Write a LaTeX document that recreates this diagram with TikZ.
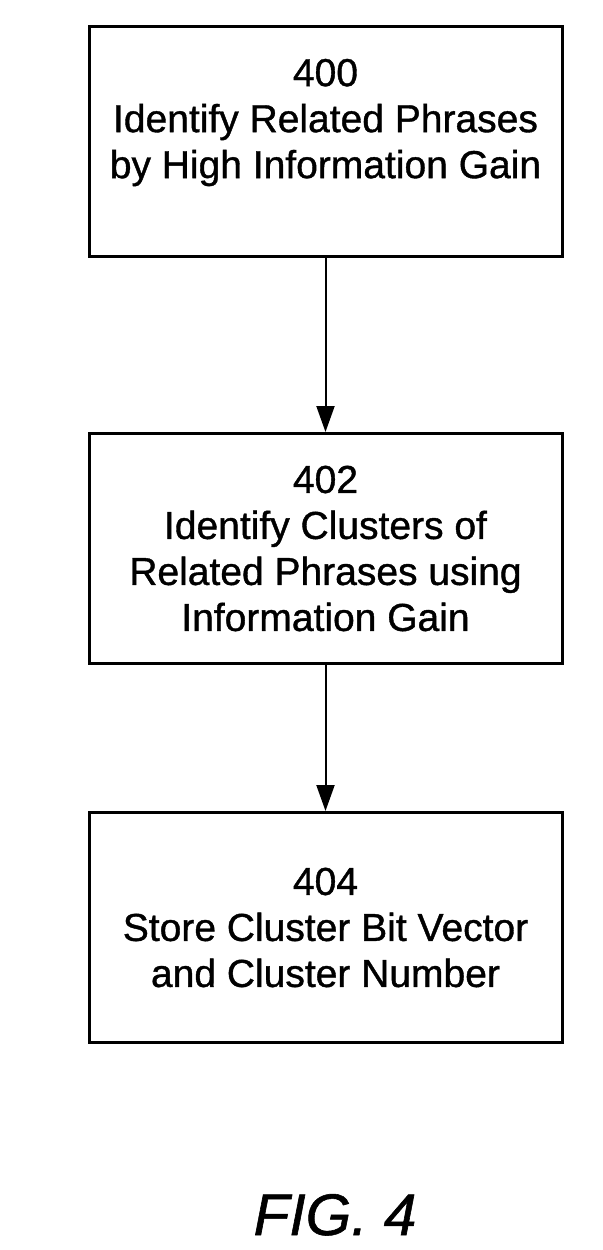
\documentclass[tikz,border=0pt]{standalone}
\usepackage{fontspec}
\setmainfont{Liberation Sans}[FakeBold=1]
\usetikzlibrary{arrows.meta,positioning}

\begin{document}
\begin{tikzpicture}[
    x=0.5pt, y=0.5pt,
    >={Triangle[width=9pt,length=13pt]},
    block/.style={
      rectangle,
      line width=1.5pt,
      minimum width=236.5pt,
      minimum height=115pt,
      align=center,
      inner sep=0pt,
      font=\fontsize{19.5pt}{23pt}\selectfont
    },
    flow/.style={
      ->,
      line width=1pt
    }
]

\useasboundingbox (0,0) rectangle (603,-1250);

\node [block, draw=black] (phrases) at (325.5,-141.5) {400\\Identify Related Phrases\\by High Information Gain\\ \mbox{}};
\node [block, draw=black] (clusters) [below = 87pt of phrases] {402\\Identify Clusters of\\Related Phrases using\\Information Gain};
\node [block, draw=black] (store) [below = 73pt of clusters] {404\\Store Cluster Bit Vector\\and Cluster Number};

%% Caption
\node [font=\itshape\fontsize{29.3pt}{34pt}\selectfont, anchor=base] (fig) at (335,-1235) {FIG. 4};

%%% Arrows
\draw [flow] (phrases) to (clusters);
\draw [flow] (clusters) to (store);

\end{tikzpicture}
\end{document}
